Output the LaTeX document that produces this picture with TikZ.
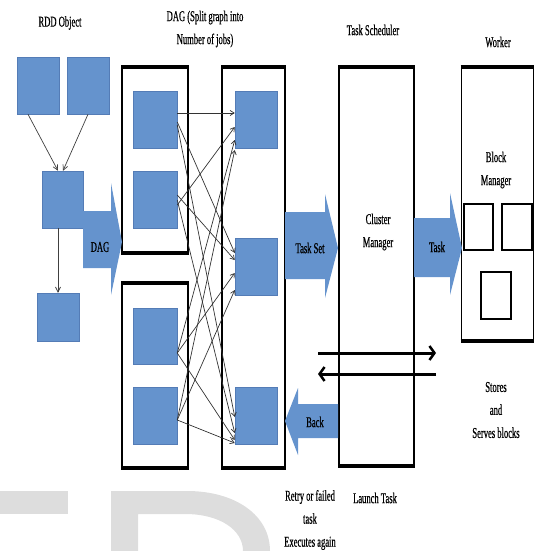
\documentclass[tikz,border=0pt]{standalone}
\usepackage{fontspec}
\setmainfont{Liberation Serif}[FakeStretch=0.57,FakeBold=0.5]
\usetikzlibrary{arrows,arrows.meta,positioning,calc}
\definecolor{bb}{RGB}{101,147,205}
\definecolor{bbline}{RGB}{84,124,182}
\definecolor{wm}{RGB}{221,221,221}

\begin{document}
\begin{tikzpicture}[x=1pt, y=-1pt,
  font=\fontsize{15}{23}\selectfont,
  bluebox/.style={rectangle, fill=bb, draw=bbline, line width=0.5pt, minimum width=43pt, minimum height=57pt, inner sep=0pt},
  framebox/.style={rectangle, draw=black, line width=1.6pt, inner sep=0pt},
  blockbox/.style={rectangle, draw=black, line width=2pt, fill=white, inner sep=0pt},
  capline/.style={line width=4pt, black},
  dagedge/.style={draw=black!80, line width=0.7pt, -{Straight Barb[length=4pt,width=5pt]}},
  rddedge/.style={draw=black!75, line width=0.7pt, -{Straight Barb[length=5pt,width=5pt]}},
  launchedge/.style={line width=3pt, -{Straight Barb[length=5pt,width=14pt,line width=2.5pt]}},
  lbl/.style={align=center, inner sep=0pt}]

\useasboundingbox (0,0) rectangle (536,551);

% watermark
\fill[wm] (0,491) rectangle (68,514);
\fill[wm, even odd rule] (111,551) -- (111,491) -- (187,491) .. controls (235,491) and (270,515) .. (270,551) -- cycle
  (138,551) -- (138,514) -- (185,514) .. controls (220,514) and (243,530) .. (243,551) -- cycle;

% frames
\node[framebox, minimum width=66pt, minimum height=184pt] (G1) at (155,160) {};
\node[framebox, minimum width=66pt, minimum height=183pt] (G2) at (155,375.5) {};
\node[framebox, minimum width=63pt, minimum height=399pt] (G3) at (253.5,267.5) {};
\node[framebox, minimum width=75pt, minimum height=397pt] (CM) at (376.5,266.5) {};
\node[framebox, minimum width=72pt, minimum height=272pt] (W) at (497.5,204) {};
\foreach \f in {G1,G2,G3,CM,W} {
  \draw[capline] (\f.north west) -- (\f.north east);
  \draw[capline] (\f.south west) -- (\f.south east);
}

% RDD objects
\node[bluebox, minimum width=42pt] (R1) at (38,85.5) {};
\node[bluebox, minimum width=42pt] (R2) at (88,85.5) {};
\node[bluebox, minimum width=41pt] (R3) at (62.5,199.5) {};
\node[bluebox, minimum width=42pt, minimum height=48pt] (R4) at (58,317) {};
\draw[rddedge] ($(R1.south)+(-10,0)$) -- ($(R3.north)+(-4.5,0)$);
\draw[rddedge] ($(R2.south)+(0,0)$) -- ($(R3.north)+(0.5,0)$);
\draw[rddedge] ($(R3.south)+(-4.5,0)$) -- (R4.north);

% jobs
\node[bluebox, minimum width=44pt] (A) at (155,119.5) {};
\node[bluebox, minimum width=44pt] (B) at (155,199.5) {};
\node[bluebox, minimum width=44pt, minimum height=56pt] (C) at (155,336) {};
\node[bluebox, minimum width=44pt] (D) at (155,415.5) {};
\node[bluebox, minimum width=42pt] (E) at (256,119.5) {};
\node[bluebox, minimum width=42pt] (F) at (256,266.5) {};
\node[bluebox, minimum width=42pt] (G) at (256,415.5) {};
\foreach \s/\a/\t/\b in {A/-6.5/E/-6.5, A/2.5/F/-13.5, A/5.5/G/1.5,
    B/5.5/E/7.5, B/-4.5/F/-6.5, B/0.5/G/17.5,
    C/17/E/20.5, C/17/F/6.5, C/17/G/24.5,
    D/4.5/E/30.5, D/4.5/F/23.5, D/4.5/G/27.5} {
  \draw[dagedge] ($(\s.east)+(0,\a)$) -- ($(\t.west)+(0,\b)$);
}

% block manager
\node[blockbox, minimum width=29pt, minimum height=46pt] (S1) at (478.5,227) {};
\node[blockbox, minimum width=30pt, minimum height=46pt] (S2) at (517,227) {};
\node[blockbox, minimum width=30pt, minimum height=47pt] (S3) at (496,295.5) {};

% big arrows
\fill[bb] (83,211) -- (111,211) -- (111,183) -- (122,242) -- (111,295) -- (111,268) -- (83,268) -- cycle;
\fill[bb] (285,212) -- (325,212) -- (325,194) -- (338,248) -- (325,298) -- (325,279) -- (285,279) -- cycle;
\fill[bb] (414,218) -- (450,218) -- (450,193) -- (462,248) -- (450,295) -- (450,277) -- (414,277) -- cycle;
\fill[bb] (338,404) -- (298,404) -- (298,388) -- (285,421) -- (298,455) -- (298,438) -- (338,438) -- cycle;

% launch task
\coordinate (L1) at (318,353);
\coordinate (L2) at (436,353);
\coordinate (L3) at (436,374);
\coordinate (L4) at (318,374);
\draw[launchedge] (L1) -- (L2);
\draw[launchedge] (L3) -- (L4);

% labels
\node[lbl] (rddlbl) at (60,23) {RDD Object};
\node[lbl] (daglbl) at (205,29) {DAG (Split graph into\\Number of jobs)};
\node[lbl] (tslbl) at (373,30) {Task Scheduler};
\node[lbl] (wlbl) at (498,42) {Worker};
\node[lbl] (dagarr) at (100,247) {DAG};
\node[lbl] (setarr) at (310,248) {Task Set};
\node[lbl] (cmlbl) at (378,232) {Cluster\\Manager};
\node[lbl] (taskarr) at (437,247) {Task};
\node[lbl] (bmlbl) at (496,170) {Block\\Manager};
\node[lbl] (storelbl) at (496,410) {Stores\\and\\Serves blocks};
\node[lbl] (backarr) at (315,422) {Back};
\node[lbl] (retrylbl) at (310,520) {Retry or failed\\task\\Executes again};
\node[lbl] (launchlbl) at (375,498) {Launch Task};

\end{tikzpicture}
\end{document}
